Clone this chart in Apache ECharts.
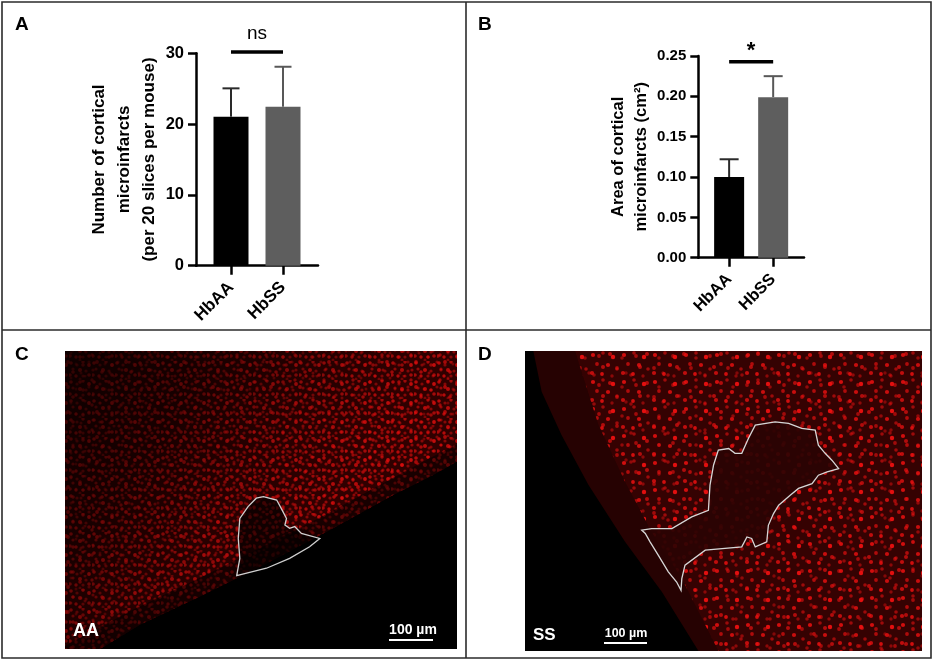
<!DOCTYPE html>
<html>
<head>
<meta charset="utf-8">
<script src="https://cdn.jsdelivr.net/npm/echarts@6/dist/echarts.min.js"></script>
<style>
html, body { margin: 0; padding: 0; background: #fff; }
#main { width: 935px; height: 662px; }
</style>
</head>
<body>
<div id="main"></div>
<script>
// 数据
var groups = ['HbAA', 'HbSS'];
var countMean = [21.05, 22.45];   // A: Number of cortical microinfarcts
var countErr = [4.0, 5.65];
var areaMean = [0.100, 0.199];    // B: Area of cortical microinfarcts
var areaErr = [0.022, 0.026];
var countTicks = [0, 10, 20, 30];
var areaTicks = [0, 0.05, 0.10, 0.15, 0.20, 0.25];
var countSig = ['ns'];
var countSigAt = [[0, 1, 30.2]];
var areaSig = ['*'];
var areaSigAt = [[0, 1, 0.243]];

var FONT = 'Liberation Sans, Arial, sans-serif';
var barColors = ['#000000', '#5e5e5e'];
var errColors = ['#2a2a2a', '#585858'];

// 显微图像区域 (相对坐标 0..1)
var imgC = { x: 65, y: 351, w: 392, h: 298 };
var imgD = { x: 525, y: 351, w: 397, h: 300 };
var tissueC = [[0, 0], [1, 0], [1, 0.371], [0.939, 0.416], [0.837, 0.483], [0.684, 0.595],
	[0.514, 0.713], [0.344, 0.824], [0.191, 0.919], [0.089, 1], [0, 1]];
var fringeC = [[1, 0.371], [0.939, 0.416], [0.837, 0.483], [0.684, 0.595], [0.514, 0.713],
	[0.344, 0.824], [0.191, 0.919], [0.089, 1], [0, 1], [0, 0.99], [0.17, 0.87], [0.33, 0.77],
	[0.50, 0.66], [0.67, 0.545], [0.83, 0.43], [0.93, 0.36], [1, 0.315]];
var infarctC = [[0.506, 0.489], [0.540, 0.500], [0.556, 0.539], [0.565, 0.562], [0.561, 0.584],
	[0.573, 0.595], [0.586, 0.589], [0.603, 0.612], [0.650, 0.629], [0.624, 0.657], [0.573, 0.696],
	[0.514, 0.729], [0.438, 0.754], [0.446, 0.696], [0.442, 0.629], [0.446, 0.562], [0.467, 0.522],
	[0.488, 0.494]];
var hazeD = [[0.021, 0], [1, 0], [1, 1], [0.437, 1], [0.345, 0.803], [0.252, 0.636],
	[0.160, 0.447], [0.092, 0.280], [0.042, 0.136]];
var cellsD = [[0.126, 0], [1, 0], [1, 1], [0.487, 1], [0.395, 0.758], [0.319, 0.603],
	[0.252, 0.436], [0.185, 0.247]];
var infarctD = [[0.294, 0.597], [0.319, 0.592], [0.370, 0.592], [0.420, 0.553], [0.462, 0.531],
	[0.466, 0.447], [0.475, 0.380], [0.487, 0.330], [0.513, 0.325], [0.529, 0.341], [0.546, 0.341],
	[0.563, 0.291], [0.580, 0.247], [0.630, 0.236], [0.664, 0.241], [0.697, 0.258], [0.731, 0.264],
	[0.739, 0.314], [0.756, 0.341], [0.773, 0.364], [0.790, 0.392], [0.761, 0.403], [0.739, 0.414],
	[0.723, 0.442], [0.689, 0.458], [0.668, 0.481], [0.639, 0.514], [0.626, 0.542], [0.613, 0.581],
	[0.609, 0.636], [0.580, 0.653], [0.571, 0.625], [0.559, 0.620], [0.546, 0.653], [0.454, 0.664],
	[0.403, 0.714], [0.395, 0.759], [0.393, 0.798], [0.382, 0.770], [0.361, 0.736], [0.336, 0.681],
	[0.315, 0.636], [0.303, 0.608]];
// 细胞核纹理 (tile 内的点: x, y, r, alpha)
var dotsC1 = [[2, 2, 1.8, .9], [8, 4, 1.6, .6], [14, 1, 1.7, .8], [20, 4, 1.9, 1], [4, 8, 1.6, .7],
	[11, 9, 2, .9], [17, 10, 1.6, .6], [1, 14, 1.8, .8], [7, 15, 1.7, .9], [14, 15, 1.6, .6],
	[20, 14, 1.8, .8], [11, 18, 1.5, .5]];
var dotsC2 = [[5, 5, 1.7, .8], [13, 3, 1.5, .5], [22, 7, 1.8, .9], [27, 1, 1.5, .6], [2, 12, 1.6, .6],
	[10, 12, 1.9, .9], [18, 14, 1.5, .5], [25, 15, 1.8, .8], [6, 20, 1.6, .7], [15, 22, 1.8, .9],
	[23, 23, 1.5, .6]];
var dotsD1 = [[4, 4, 2.1, .9], [14, 2, 1.8, .6], [24, 6, 2.2, 1], [8, 13, 1.9, .7], [19, 14, 2.1, .85],
	[28, 18, 1.8, .6], [3, 22, 2.1, .8], [13, 23, 1.9, .9], [23, 25, 1.7, .5]];
var dotsD2 = [[7, 8, 1.9, .7], [18, 6, 2, .8], [30, 10, 1.8, .6], [11, 19, 2, .8], [25, 20, 1.9, .7],
	[34, 25, 1.7, .5], [2, 27, 1.8, .6]];

function makeTile(w, h, dots) {
	var c = document.createElement('canvas');
	c.width = w; c.height = h;
	var ctx = c.getContext('2d');
	dots.forEach(function (d) {
		ctx.fillStyle = 'rgba(235,16,16,' + d[3] + ')';
		ctx.beginPath();
		ctx.arc(d[0], d[1], d[2], 0, Math.PI * 2);
		ctx.fill();
	});
	return c;
}
function toPx(r, list) {
	return list.map(function (p) { return [r.x + p[0] * r.w, r.y + p[1] * r.h]; });
}
function patternPoly(r, list, tile, opacity) {
	return { type: 'polygon', shape: { points: toPx(r, list) }, style: { fill: { image: tile, repeat: 'repeat' }, opacity: opacity } };
}

function errRender(capHalf) {
	return function (params, api) {
		var x = api.value(0), m = api.value(1), e = api.value(2);
		var p0 = api.coord([x, m]);
		var p1 = api.coord([x, m + e]);
		var st = { stroke: api.visual('color'), lineWidth: 2 };
		return {
			type: 'group',
			children: [
				{ type: 'line', shape: { x1: p0[0], y1: p0[1], x2: p1[0], y2: p1[1] }, style: st },
				{ type: 'line', shape: { x1: p1[0] - capHalf, y1: p1[1], x2: p1[0] + capHalf, y2: p1[1] }, style: st }
			]
		};
	};
}
function sigRender(labels, font, gap) {
	return function (params, api) {
		var a = api.coord([api.value(0), api.value(2)]);
		var b = api.coord([api.value(1), api.value(2)]);
		return {
			type: 'group',
			children: [
				{ type: 'line', shape: { x1: a[0], y1: a[1], x2: b[0], y2: b[1] }, style: { stroke: '#000', lineWidth: 3.5 } },
				{ type: 'text', x: (a[0] + b[0]) / 2, y: a[1] - gap,
					style: { text: labels[params.dataIndex], font: font, fill: '#000', align: 'center', verticalAlign: 'middle' } }
			]
		};
	};
}

function xAxisOf(idx, min, max, fontSize, margin) {
	return {
		gridIndex: idx, type: 'value', min: min, max: max,
		axisLine: { onZero: false, lineStyle: { color: '#000', width: 2.5 } },
		axisTick: { customValues: [0, 1], length: 9, lineStyle: { color: '#000', width: 2.5 } },
		axisLabel: {
			customValues: [0, 1], rotate: 45, margin: margin, color: '#000',
			fontFamily: FONT, fontWeight: 'bold', fontSize: fontSize,
			formatter: function (v) { return groups[Math.round(v)]; }
		},
		splitLine: { show: false }
	};
}
function yAxisOf(idx, ticks, name, nameSize, lineH, gap, labSize, digits) {
	return {
		gridIndex: idx, type: 'value',
		min: ticks[0], max: ticks[ticks.length - 1], interval: ticks[1] - ticks[0],
		name: name, nameLocation: 'middle', nameRotate: 90, nameGap: gap,
		nameTextStyle: { fontFamily: FONT, fontWeight: 'bold', fontSize: nameSize, lineHeight: lineH, color: '#000', align: 'center' },
		axisLine: { show: true, onZero: false, lineStyle: { color: '#000', width: 2.5 } },
		axisTick: { show: true, length: 8, lineStyle: { color: '#000', width: 2.5 } },
		axisLabel: {
			margin: 12, color: '#000', fontFamily: FONT, fontWeight: 'bold', fontSize: labSize,
			formatter: function (v) { return v.toFixed(digits); }
		},
		splitLine: { show: false }
	};
}

var tileC1 = makeTile(23, 19, dotsC1);
var tileC2 = makeTile(29, 25, dotsC2);
var tileD1 = makeTile(31, 27, dotsD1);
var tileD2 = makeTile(37, 29, dotsD2);

var chart = echarts.init(document.getElementById('main'));

var graphics = [
	// 外框与分隔线
	{ type: 'rect', shape: { x: 2, y: 2, width: 929, height: 656 }, style: { fill: 'none', stroke: '#2b2b2b', lineWidth: 1.6 } },
	{ type: 'line', shape: { x1: 466, y1: 2, x2: 466, y2: 658 }, style: { stroke: '#2b2b2b', lineWidth: 1.6 } },
	{ type: 'line', shape: { x1: 2, y1: 330, x2: 931, y2: 330 }, style: { stroke: '#2b2b2b', lineWidth: 1.6 } },
	// 面板 C
	{ type: 'rect', shape: { x: imgC.x, y: imgC.y, width: imgC.w, height: imgC.h }, style: { fill: '#000' } },
	{ type: 'polygon', shape: { points: toPx(imgC, tissueC) }, style: { fill: '#300000' } },
	patternPoly(imgC, tissueC, tileC1, 0.78),
	patternPoly(imgC, tissueC, tileC2, 0.7),
	{ type: 'polygon', shape: { points: toPx(imgC, tissueC) },
		style: { fill: new echarts.graphic.LinearGradient(0, 0, 1, 1, [
			{ offset: 0, color: 'rgba(0,0,0,0.72)' },
			{ offset: 0.25, color: 'rgba(0,0,0,0.5)' },
			{ offset: 0.45, color: 'rgba(0,0,0,0.18)' },
			{ offset: 0.62, color: 'rgba(0,0,0,0)' },
			{ offset: 1, color: 'rgba(0,0,0,0)' }]) } },
	{ type: 'polygon', shape: { points: toPx(imgC, fringeC) }, style: { fill: 'rgba(0,0,0,0.5)' } },
	{ type: 'polygon', shape: { points: toPx(imgC, infarctC) }, style: { fill: 'rgba(0,0,0,0.6)', stroke: '#cfcfcf', lineWidth: 1.3 } },
	{ type: 'text', x: 73, y: 631, style: { text: 'AA', font: 'bold 18px ' + FONT, fill: '#fff', verticalAlign: 'middle' } },
	{ type: 'text', x: 413, y: 630, style: { text: '100 µm', font: 'bold 14px ' + FONT, fill: '#fff', align: 'center', verticalAlign: 'middle' } },
	{ type: 'line', shape: { x1: 389, y1: 640, x2: 433, y2: 640 }, style: { stroke: '#fff', lineWidth: 2 } },
	// 面板 D
	{ type: 'rect', shape: { x: imgD.x, y: imgD.y, width: imgD.w, height: imgD.h }, style: { fill: '#000' } },
	{ type: 'polygon', shape: { points: toPx(imgD, hazeD) }, style: { fill: '#260202' } },
	{ type: 'polygon', shape: { points: toPx(imgD, cellsD) }, style: { fill: '#350202' } },
	patternPoly(imgD, cellsD, tileD1, 0.95),
	patternPoly(imgD, cellsD, tileD2, 0.85),
	{ type: 'polygon', shape: { points: toPx(imgD, infarctD) }, style: { fill: 'rgba(42,3,3,0.9)', stroke: '#d6d6d6', lineWidth: 1.3 } },
	{ type: 'text', x: 533, y: 635, style: { text: 'SS', font: 'bold 17px ' + FONT, fill: '#fff', verticalAlign: 'middle' } },
	{ type: 'text', x: 626, y: 634, style: { text: '100 µm', font: 'bold 12.5px ' + FONT, fill: '#fff', align: 'center', verticalAlign: 'middle' } },
	{ type: 'line', shape: { x1: 604, y1: 643, x2: 647, y2: 643 }, style: { stroke: '#fff', lineWidth: 2 } }
];
// 面板字母
[['A', 15, 25], ['B', 478, 25], ['C', 15, 355], ['D', 478, 355]].forEach(function (t) {
	graphics.push({ type: 'text', x: t[1], y: t[2], style: { text: t[0], font: 'bold 19px ' + FONT, fill: '#000', verticalAlign: 'middle' } });
});

var option = {
	animation: false,
	textStyle: { fontFamily: FONT },
	grid: [
		{ left: 196, top: 53.3, width: 122, height: 212.4 },
		{ left: 698.3, top: 56, width: 105.7, height: 201.7 }
	],
	xAxis: [
		xAxisOf(0, -0.673, 1.673, 17, 19),
		xAxisOf(1, -0.70, 1.70, 16.5, 19)
	],
	yAxis: [
		yAxisOf(0, countTicks, 'Number of cortical\nmicroinfarcts\n(per 20 slices per mouse)', 17, 25, 33.5, 16.5, 0),
		yAxisOf(1, areaTicks, 'Area of cortical\nmicroinfarcts (cm²)', 16.5, 23, 44, 15, 2)
	],
	series: [
		{
			type: 'bar', xAxisIndex: 0, yAxisIndex: 0, barWidth: 35,
			data: groups.map(function (g, i) { return { value: [i, countMean[i]], itemStyle: { color: barColors[i] } }; })
		},
		{
			type: 'custom', xAxisIndex: 0, yAxisIndex: 0, renderItem: errRender(8.5), encode: { x: 0, y: 1 },
			data: groups.map(function (g, i) { return { value: [i, countMean[i], countErr[i]], itemStyle: { color: errColors[i] } }; })
		},
		{
			type: 'custom', xAxisIndex: 0, yAxisIndex: 0, renderItem: sigRender(countSig, '19px ' + FONT, 18), encode: { x: [0, 1], y: 2 },
			data: countSigAt
		},
		{
			type: 'bar', xAxisIndex: 1, yAxisIndex: 1, barWidth: 30,
			data: groups.map(function (g, i) { return { value: [i, areaMean[i]], itemStyle: { color: barColors[i] } }; })
		},
		{
			type: 'custom', xAxisIndex: 1, yAxisIndex: 1, renderItem: errRender(9.5), encode: { x: 0, y: 1 },
			data: groups.map(function (g, i) { return { value: [i, areaMean[i], areaErr[i]], itemStyle: { color: errColors[i] } }; })
		},
		{
			type: 'custom', xAxisIndex: 1, yAxisIndex: 1, renderItem: sigRender(areaSig, 'bold 22px ' + FONT, 10.5), encode: { x: [0, 1], y: 2 },
			data: areaSigAt
		}
	],
	graphic: graphics
};
chart.setOption(option);
</script>
</body>
</html>
